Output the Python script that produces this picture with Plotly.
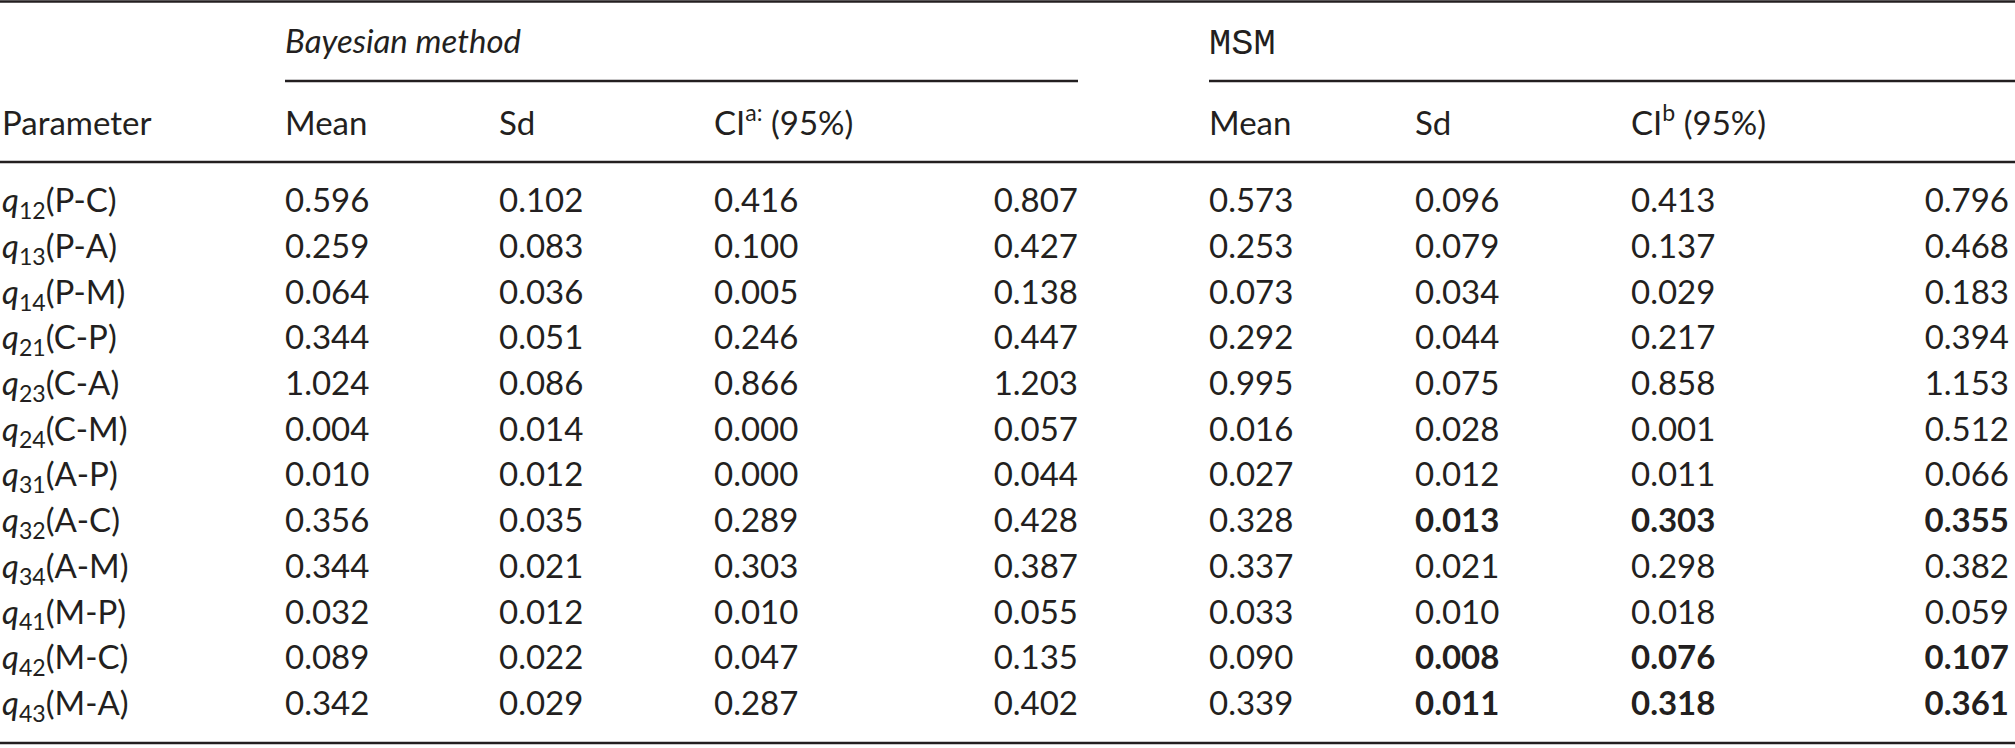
import plotly.graph_objects as go

# datos de la tabla
parametros = ['q12(P-C)', 'q13(P-A)', 'q14(P-M)', 'q21(C-P)', 'q23(C-A)', 'q24(C-M)',
              'q31(A-P)', 'q32(A-C)', 'q34(A-M)', 'q41(M-P)', 'q42(M-C)', 'q43(M-A)']
bayes_mean = [0.596, 0.259, 0.064, 0.344, 1.024, 0.004, 0.010, 0.356, 0.344, 0.032, 0.089, 0.342]
bayes_sd = [0.102, 0.083, 0.036, 0.051, 0.086, 0.014, 0.012, 0.035, 0.021, 0.012, 0.022, 0.029]
bayes_ci_low = [0.416, 0.100, 0.005, 0.246, 0.866, 0.000, 0.000, 0.289, 0.303, 0.010, 0.047, 0.287]
bayes_ci_high = [0.807, 0.427, 0.138, 0.447, 1.203, 0.057, 0.044, 0.428, 0.387, 0.055, 0.135, 0.402]
msm_mean = [0.573, 0.253, 0.073, 0.292, 0.995, 0.016, 0.027, 0.328, 0.337, 0.033, 0.090, 0.339]
msm_sd = [0.096, 0.079, 0.034, 0.044, 0.075, 0.028, 0.012, 0.013, 0.021, 0.010, 0.008, 0.011]
msm_ci_low = [0.413, 0.137, 0.029, 0.217, 0.858, 0.001, 0.011, 0.303, 0.298, 0.018, 0.076, 0.318]
msm_ci_high = [0.796, 0.468, 0.183, 0.394, 1.153, 0.512, 0.066, 0.355, 0.382, 0.059, 0.107, 0.361]
msm_negritas = ['q32(A-C)', 'q42(M-C)', 'q43(M-A)']

encabezados = ['Parameter', 'Mean', 'Sd', 'CI<sup>a:</sup> (95%)', 'Mean', 'Sd', 'CI<sup>b</sup> (95%)']

# estilo
ANCHO, ALTO = 2015, 748
FUENTE = 'Lato'
TAM = 33
NEGRO = '#231f20'
FILA0, ALTO_FILA = 204, 45.7   # pixel de la primera fila y separacion


def fila(px):
    # pixel vertical -> unidades de fila
    return (px - FILA0) / ALTO_FILA


def etiqueta(p):
    return '<i>q</i><sub>' + p[1:3] + '</sub>' + p[3:]


def numero(v, negrita=False):
    s = '{:.3f}'.format(v)
    return '<b>' + s + '</b>' if negrita else s


filas = list(range(len(parametros)))
neg = [p in msm_negritas for p in parametros]

columnas = [
    (2, 'middle right', [etiqueta(p) for p in parametros]),
    (285, 'middle right', [numero(v) for v in bayes_mean]),
    (499, 'middle right', [numero(v) for v in bayes_sd]),
    (714, 'middle right', [numero(v) for v in bayes_ci_low]),
    (1078, 'middle left', [numero(v) for v in bayes_ci_high]),
    (1209, 'middle right', [numero(v) for v in msm_mean]),
    (1415, 'middle right', [numero(v, b) for v, b in zip(msm_sd, neg)]),
    (1631, 'middle right', [numero(v, b) for v, b in zip(msm_ci_low, neg)]),
    (2009, 'middle left', [numero(v, b) for v, b in zip(msm_ci_high, neg)]),
]

fig = go.Figure()
for x, pos, textos in columnas:
    fig.add_trace(go.Scatter(x=[x] * len(filas), y=filas, mode='text', text=textos,
                             textposition=pos, textfont=dict(family=FUENTE, size=TAM, color=NEGRO),
                             hoverinfo='skip', showlegend=False, cliponaxis=False))

# encabezados de columnas
x_enc = [2, 285, 499, 714, 1209, 1415, 1631]
fig.add_trace(go.Scatter(x=x_enc, y=[fila(127)] * len(x_enc), mode='text', text=encabezados,
                         textposition='middle right', textfont=dict(family=FUENTE, size=TAM, color=NEGRO),
                         hoverinfo='skip', showlegend=False, cliponaxis=False))

# encabezados de grupo
fig.add_trace(go.Scatter(x=[285], y=[fila(45)], mode='text', text=['<i>Bayesian method</i>'],
                         textposition='middle right', textfont=dict(family=FUENTE, size=TAM, color=NEGRO),
                         hoverinfo='skip', showlegend=False, cliponaxis=False))
fig.add_trace(go.Scatter(x=[1209], y=[fila(45)], mode='text', text=['MSM'],
                         textposition='middle right',
                         textfont=dict(family='Liberation Mono', size=37, color=NEGRO),
                         hoverinfo='skip', showlegend=False, cliponaxis=False))

# lineas de la tabla
lineas = [(0, ANCHO, 1.5), (285, 1078, 81), (1209, ANCHO, 81), (0, ANCHO, 162), (0, ANCHO, 743)]
for x0, x1, py in lineas:
    fig.add_shape(type='line', xref='x', yref='y', x0=x0, x1=x1, y0=fila(py), y1=fila(py),
                  line=dict(color=NEGRO, width=2.6))

fig.update_xaxes(range=[0, ANCHO], visible=False, fixedrange=True)
fig.update_yaxes(range=[fila(ALTO), fila(0)], visible=False, fixedrange=True)
fig.update_layout(width=ANCHO, height=ALTO, margin=dict(l=0, r=0, t=0, b=0),
                  plot_bgcolor='white', paper_bgcolor='white')

# quitar el margen del body para que la tabla quede en (0, 0)
fig.write_html('out.html', config={'displayModeBar': False},
               post_script="document.body.style.margin='0';document.body.style.overflow='hidden';")
